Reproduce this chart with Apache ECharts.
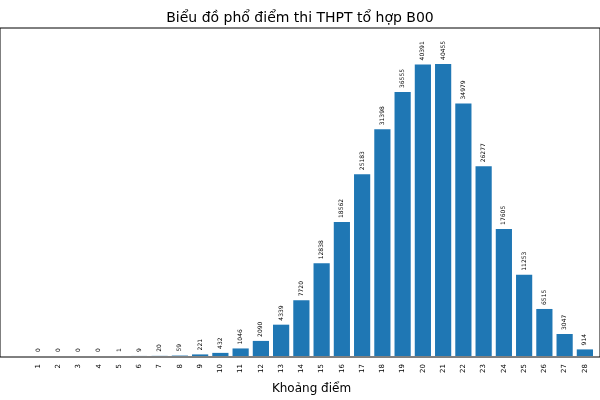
<!DOCTYPE html>
<html><head><meta charset="utf-8">
<script src="https://cdn.jsdelivr.net/npm/echarts@6/dist/echarts.min.js"></script>
<style>html,body{margin:0}#c{width:600px;height:400px}</style></head>
<body><div id="c"></div>
<script>
const categories = ['1','2','3','4','5','6','7','8','9','10','11','12','13','14','15','16','17','18','19','20','21','22','23','24','25','26','27','28'];
const counts = [0,0,0,0,1,9,20,59,221,432,1046,2090,4339,7720,12838,18562,25183,31398,36555,40391,40455,34979,26277,17605,11253,6515,3047,914];
const chart = echarts.init(document.getElementById('c'));
chart.setOption({
  animation:false,
  title:{text:'Biểu đồ phổ điểm thi THPT tổ hợp B00',left:'center',top:6,textStyle:{fontFamily:'DejaVu Sans',fontSize:14,fontWeight:'normal',color:'#000'}},
  grid:[
    {left:0,right:-2,top:28,bottom:43,show:true,borderColor:'#000',borderWidth:1},
    {left:28,width:567,top:28,bottom:43}
  ],
  xAxis:[
    {gridIndex:0,type:'value',show:false,min:0,max:1},
    {gridIndex:1,type:'category',data:categories,axisLine:{show:false},
     axisTick:{alignWithLabel:true,length:4,lineStyle:{color:'#000'}},
     axisLabel:{rotate:90,fontSize:7,color:'#000',fontFamily:'DejaVu Sans'},
     name:'Khoảng điểm',nameLocation:'middle',nameGap:27,
     nameTextStyle:{fontSize:12,color:'#000',fontFamily:'DejaVu Sans'}}
  ],
  yAxis:[
    {gridIndex:0,type:'value',show:false,min:0,max:1},
    {gridIndex:1,type:'value',min:0,max:45430,show:false}
  ],
  series:[{type:'bar',xAxisIndex:1,yAxisIndex:1,data:counts,barWidth:'80%',
    itemStyle:{color:'#1f77b4'},
    label:{show:true,position:'top',rotate:90,align:'left',verticalAlign:'middle',distance:4,fontSize:6,color:'#000',fontFamily:'DejaVu Sans'}}]
});
</script></body></html>
